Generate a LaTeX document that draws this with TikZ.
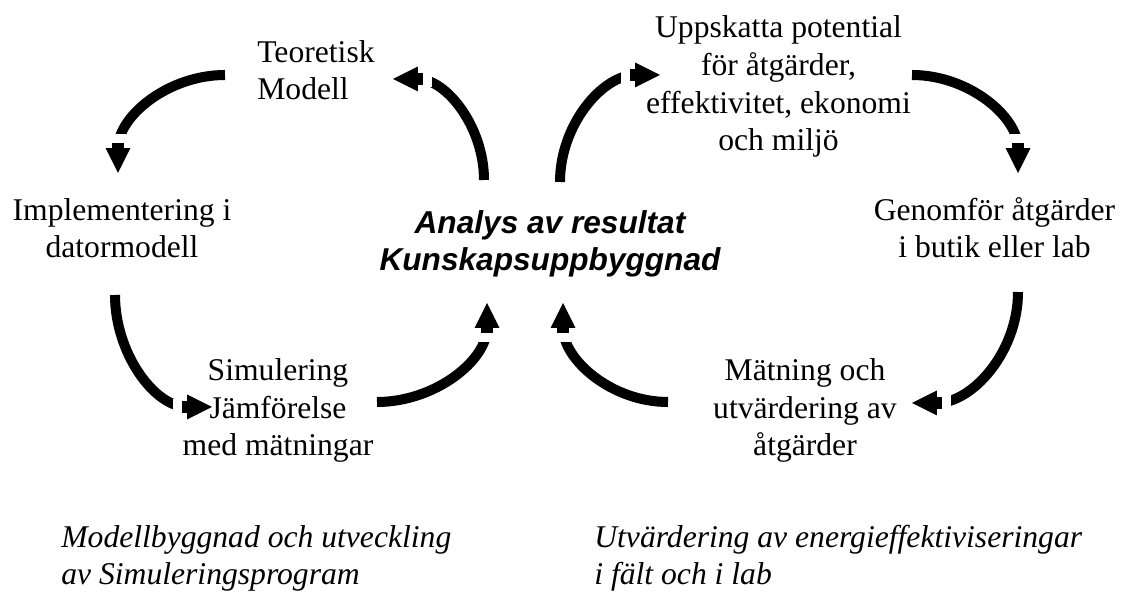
\documentclass[tikz,border=0pt]{standalone}
\usepackage{fontspec}
\setmainfont{Liberation Serif}
\setsansfont{Liberation Sans}
\usetikzlibrary{arrows.meta}

\begin{document}
\begin{tikzpicture}[x=0.02cm,y=0.02cm,
		txt/.style={inner sep=0pt,align=center,anchor=base,font=\fontsize{18}{21.6}\selectfont},
		note/.style={inner sep=0pt,align=left,anchor=base west,font=\fontsize{18}{21.6}\selectfont\itshape},
		flow/.style={line width=5.7pt,-{Rectangle[length=5.1pt,width=9pt,line width=0pt,color=white]Rectangle[length=2.9pt,width=6.3pt,line width=0pt]Triangle[length=14.2pt,width=14.2pt,line width=0pt]}}]
																    
		\useasboundingbox (0,0) rectangle (1122,594);
		
		\node (teo) at (257,494) [txt,align=left,anchor=base west] {Teoretisk\\Modell};
		\node (upp) at (778.5,443) [txt] {Uppskatta potential\\för åtgärder,\\effektivitet, ekonomi\\och miljö};
		\node (imp) at (122,336) [txt] {Implementering i\\datormodell};
		\node (ana) at (550,323) [txt,font=\fontsize{18}{21.6}\selectfont\sffamily\bfseries\itshape] {Analys av resultat\\Kunskapsuppbyggnad};
		\node (gen) at (994.5,336) [txt] {Genomför åtgärder\\i butik eller lab};
		\node (sim) at (278,138) [txt] {Simulering\\Jämförelse\\med mätningar};
		\node (mat) at (805,138) [txt] {Mätning och\\utvärdering av\\åtgärder};
		
		\node (modell) at (61,9) [note] {Modellbyggnad och utveckling\\av Simuleringsprogram};
		\node (falt) at (594,9) [note] {Utvärdering av energieffektiviseringar\\i fält och i lab};
		
		% start and end points of the loop arrows
		\coordinate (teo-out) at (225,519);
		\coordinate (imp-in) at (118,421);
		\coordinate (imp-out) at (115,299);
		\coordinate (sim-in) at (212,187);
		\coordinate (sim-out) at (377,192);
		\coordinate (ana-in1) at (487,291);
		\coordinate (ana-out1) at (484,414);
		\coordinate (teo-in) at (393,515);
		\coordinate (ana-out2) at (560,412);
		\coordinate (upp-in) at (660,519);
		\coordinate (upp-out) at (912,519);
		\coordinate (gen-in) at (1018,421);
		\coordinate (gen-out) at (1018,302);
		\coordinate (mat-in) at (912,191);
		\coordinate (mat-out) at (668,192);
		\coordinate (ana-in2) at (563,291);
		
		\draw[flow] (teo-out) to[out=180,in=90] (imp-in);
		\draw[flow] (imp-out) to[out=-90,in=180] (sim-in);
		\draw[flow] (sim-out) to[out=0,in=-90] (ana-in1);
		\draw[flow] (ana-out1) to[out=90,in=0] (teo-in);
		\draw[flow] (ana-out2) to[out=90,in=180] (upp-in);
		\draw[flow] (upp-out) to[out=0,in=90] (gen-in);
		\draw[flow] (gen-out) to[out=-90,in=0] (mat-in);
		\draw[flow] (mat-out) to[out=180,in=-90] (ana-in2);
	\end{tikzpicture}
\end{document}
